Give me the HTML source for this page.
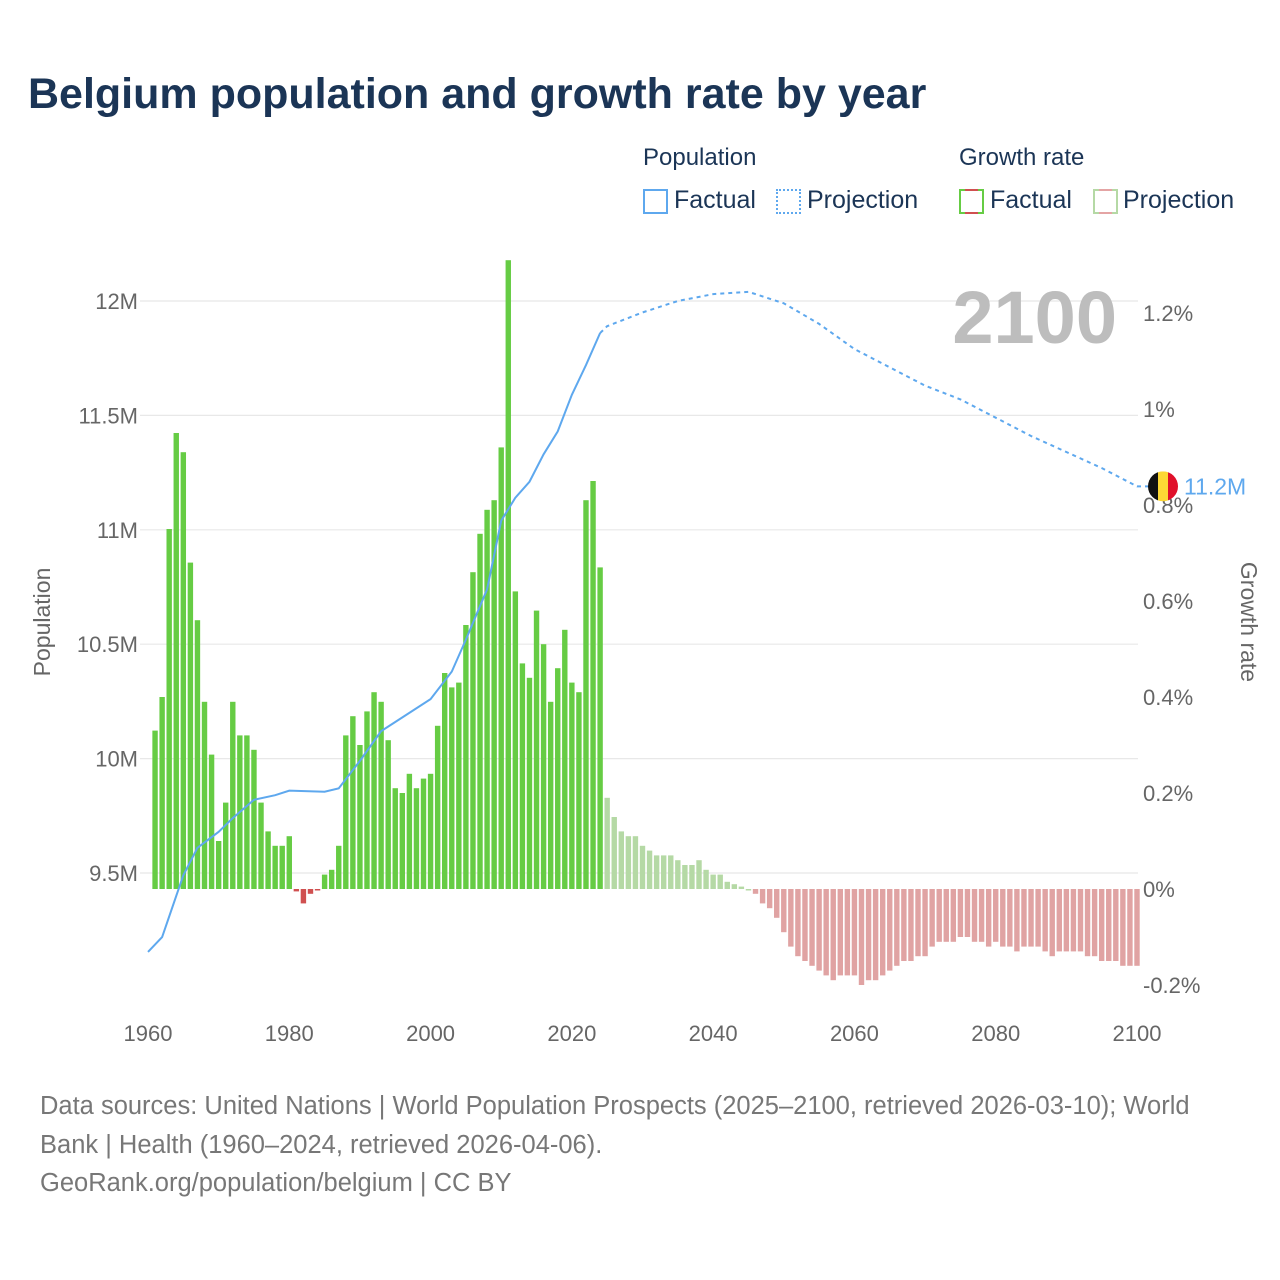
<!DOCTYPE html>
<html><head><meta charset="utf-8"><style>
html,body{margin:0;padding:0;background:#fff;}
body{width:1280px;height:1280px;position:relative;overflow:hidden;font-family:"Liberation Sans",sans-serif;}
.t{position:absolute;white-space:nowrap;}
.sw{position:absolute;top:189px;width:21px;height:21px;}
</style></head><body>
<div class="t" style="left:28px;top:70px;font-size:43px;font-weight:bold;color:#1b3556;">Belgium population and growth rate by year</div>

<div class="t" style="left:643px;top:144px;font-size:24px;color:#1b3556;">Population</div>
<div class="t" style="left:959px;top:144px;font-size:24px;color:#1b3556;">Growth rate</div>
<div>
<div class="sw" style="left:643px;border:2px solid #5ea8ee;"></div>
<div class="t" style="left:674px;top:186px;font-size:25px;color:#1b3556;">Factual</div></div>
<div>
<div class="sw" style="left:776px;border:2px dotted #5ea8ee;"></div>
<div class="t" style="left:807px;top:186px;font-size:25px;color:#1b3556;">Projection</div></div>
<div>
<div class="sw" style="left:959px;border:2px solid #66cc44;"></div>
<div style="position:absolute;left:965px;top:189px;width:13px;height:2px;background:#d05050;"></div>
<div style="position:absolute;left:965px;top:212px;width:13px;height:2px;background:#d05050;"></div>
<div class="t" style="left:990px;top:186px;font-size:25px;color:#1b3556;">Factual</div></div>
<div>
<div class="sw" style="left:1093px;border:2px solid #b5d9a5;"></div>
<div style="position:absolute;left:1099px;top:189px;width:13px;height:2px;background:#e4a4a4;"></div>
<div style="position:absolute;left:1099px;top:212px;width:13px;height:2px;background:#e4a4a4;"></div>
<div class="t" style="left:1123px;top:186px;font-size:25px;color:#1b3556;">Projection</div></div>

<svg id="chart" width="1280" height="1280" style="position:absolute;left:0;top:0;" xmlns="http://www.w3.org/2000/svg"></svg>

<div class="t" style="left:40px;top:1087px;font-size:25.5px;line-height:38.5px;color:#777;">Data sources: United Nations | World Population Prospects (2025–2100, retrieved 2026-03-10); World<br>Bank | Health (1960–2024, retrieved 2026-04-06).<br>GeoRank.org/population/belgium | CC BY</div>

<script>
const growthYears = [];
for (let y = 1961; y <= 2100; y++) growthYears.push(y);
const growthFactual = [0.33,0.40,0.75,0.95,0.91,0.68,0.56,0.39,0.28,0.10,0.18,0.39,0.32,0.32,0.29,0.18,0.12,0.09,0.09,0.11,
 -0.005,-0.03,-0.01,-0.003,0.03,0.04,0.09,0.32,0.36,0.30,0.37,0.41,0.39,0.31,0.21,0.20,0.24,0.21,0.23,0.24,
 0.34,0.45,0.42,0.43,0.55,0.66,0.74,0.79,0.81,0.92,1.31,0.62,0.47,0.44,0.58,0.51,0.39,0.46,0.54,0.43,0.41,0.81,0.85,0.67];
const growthProjection = [0.19,0.15,0.12,0.11,0.11,0.09,0.08,0.07,0.07,0.07,0.06,0.05,0.05,0.06,0.04,0.03,0.03,0.015,0.01,0.005,
 0,-0.01,-0.03,-0.04,-0.06,-0.09,-0.12,-0.14,-0.15,-0.16,-0.17,-0.18,-0.19,-0.18,-0.18,-0.18,-0.20,-0.19,-0.19,-0.18,
 -0.17,-0.16,-0.15,-0.15,-0.14,-0.14,-0.12,-0.11,-0.11,-0.11,-0.10,-0.10,-0.11,-0.11,-0.12,-0.11,-0.12,-0.12,-0.13,-0.12,
 -0.12,-0.12,-0.13,-0.14,-0.13,-0.13,-0.13,-0.13,-0.14,-0.14,-0.15,-0.15,-0.15,-0.16,-0.16,-0.16];
const popYearsFactual = [1960,1962,1964,1965,1967,1970,1972,1975,1978,1980,1985,1987,1990,1993,1995,2000,2003,2005,2008,2010,2012,2014,2016,2018,2020,2022,2024];
const popFactual = [9.155,9.22,9.40,9.49,9.61,9.68,9.74,9.82,9.84,9.86,9.855,9.87,9.99,10.12,10.16,10.26,10.38,10.52,10.74,11.04,11.14,11.21,11.33,11.43,11.59,11.72,11.86];
const popYearsProjection = [2024,2025,2030,2035,2040,2045,2050,2055,2060,2065,2070,2075,2080,2085,2090,2095,2100];
const popProjection = [11.86,11.89,11.95,12.0,12.03,12.04,11.99,11.90,11.79,11.71,11.63,11.57,11.49,11.41,11.34,11.27,11.19];
const popTicks = [9.5,10,10.5,11,11.5,12];
const popTickLabels = ["9.5M","10M","10.5M","11M","11.5M","12M"];
const rateTicks = [-0.2,0,0.2,0.4,0.6,0.8,1,1.2];
const rateTickLabels = ["-0.2%","0%","0.2%","0.4%","0.6%","0.8%","1%","1.2%"];
const xTicks = [1960,1980,2000,2020,2040,2060,2080,2100];

const X = y => 148 + (y - 1960) * (989 / 140);
const YP = p => 301 + (12 - p) * 228.8;
const YR = r => 889 - r * 480;
const svg = document.getElementById('chart');
const NS = 'http://www.w3.org/2000/svg';
function mk(tag, attrs, parent) {
  const e = document.createElementNS(NS, tag);
  for (const k in attrs) e.setAttribute(k, attrs[k]);
  (parent || svg).appendChild(e);
  return e;
}
popTicks.forEach((p, i) => {
  const g = mk('line', {x1:140, x2:1138, y1:YP(p), y2:YP(p), stroke:'#e8e8e8', 'stroke-width':1.2});
  
  
  const t = mk('text', {x:138, y:YP(p)+8, 'text-anchor':'end', 'font-size':22, fill:'#666', 'font-family':'Liberation Sans, sans-serif'});
  t.textContent = popTickLabels[i];
  
  
});
rateTicks.forEach((r, i) => {
  const t = mk('text', {x:1143, y:YR(r)+8, 'font-size':22, fill:'#666', 'font-family':'Liberation Sans, sans-serif'});
  t.textContent = rateTickLabels[i];
  
  
});
xTicks.forEach(y => {
  const t = mk('text', {x:X(y), y:1041, 'text-anchor':'middle', 'font-size':22, fill:'#666', 'font-family':'Liberation Sans, sans-serif'});
  t.textContent = y;
  
  
});
let at = mk('text', {x:0, y:0, transform:'translate(50,622) rotate(-90)', 'text-anchor':'middle', 'font-size':23, fill:'#666', 'font-family':'Liberation Sans, sans-serif'});
at.textContent = 'Population';


at = mk('text', {x:0, y:0, transform:'translate(1241,622) rotate(90)', 'text-anchor':'middle', 'font-size':23, fill:'#666', 'font-family':'Liberation Sans, sans-serif'});
at.textContent = 'Growth rate';


at = mk('text', {x:1117, y:343, 'text-anchor':'end', 'font-size':74, 'font-weight':'bold', fill:'#bdbdbd', 'font-family':'Liberation Sans, sans-serif'});
at.textContent = '2100';


const bw = 5.4;
const allRates = growthFactual.concat(growthProjection);
allRates.forEach((r, i) => {
  const yr = growthYears[i];
  const proj = i >= growthFactual.length;
  const color = r >= 0 ? (proj ? '#b5d9a5' : '#66cc44') : (proj ? '#e0a3a3' : '#d05050');
  const y0 = YR(0), y1 = YR(r);
  const b = mk('rect', {x:X(yr)-bw/2, y:Math.min(y0,y1), width:bw, height:Math.max(Math.abs(y1-y0),1.5), fill:color});
  
  
});
const pf = mk('polyline', {points: popYearsFactual.map((y,i)=>X(y)+','+YP(popFactual[i])).join(' '), fill:'none', stroke:'#5ea8ee', 'stroke-width':2});


const pp = mk('polyline', {points: popYearsProjection.map((y,i)=>X(y)+','+YP(popProjection[i])).join(' ') + ' ' + (X(2100)+12) + ',' + YP(popProjection[popProjection.length-1]), fill:'none', stroke:'#5ea8ee', 'stroke-width':2, 'stroke-dasharray':'4,4'});


const last = popProjection[popProjection.length-1];
const cy = YP(last), cx = 1163;
const defs = mk('defs', {});
const cp = mk('clipPath', {id:'fc'}, defs);
mk('circle', {cx:cx, cy:cy, r:15}, cp);
const fg = mk('g', {'clip-path':'url(#fc)'});


mk('rect', {x:cx-15, y:cy-15, width:10, height:30, fill:'#111'}, fg);
mk('rect', {x:cx-5, y:cy-15, width:10, height:30, fill:'#fdd835'}, fg);
mk('rect', {x:cx+5, y:cy-15, width:10, height:30, fill:'#e0102a'}, fg);
const lv = mk('text', {x:1184, y:cy+8, 'font-size':23, fill:'#5ea8ee', 'font-family':'Liberation Sans, sans-serif'});
lv.textContent = last.toFixed(1) + 'M';


</script>
</body></html>
